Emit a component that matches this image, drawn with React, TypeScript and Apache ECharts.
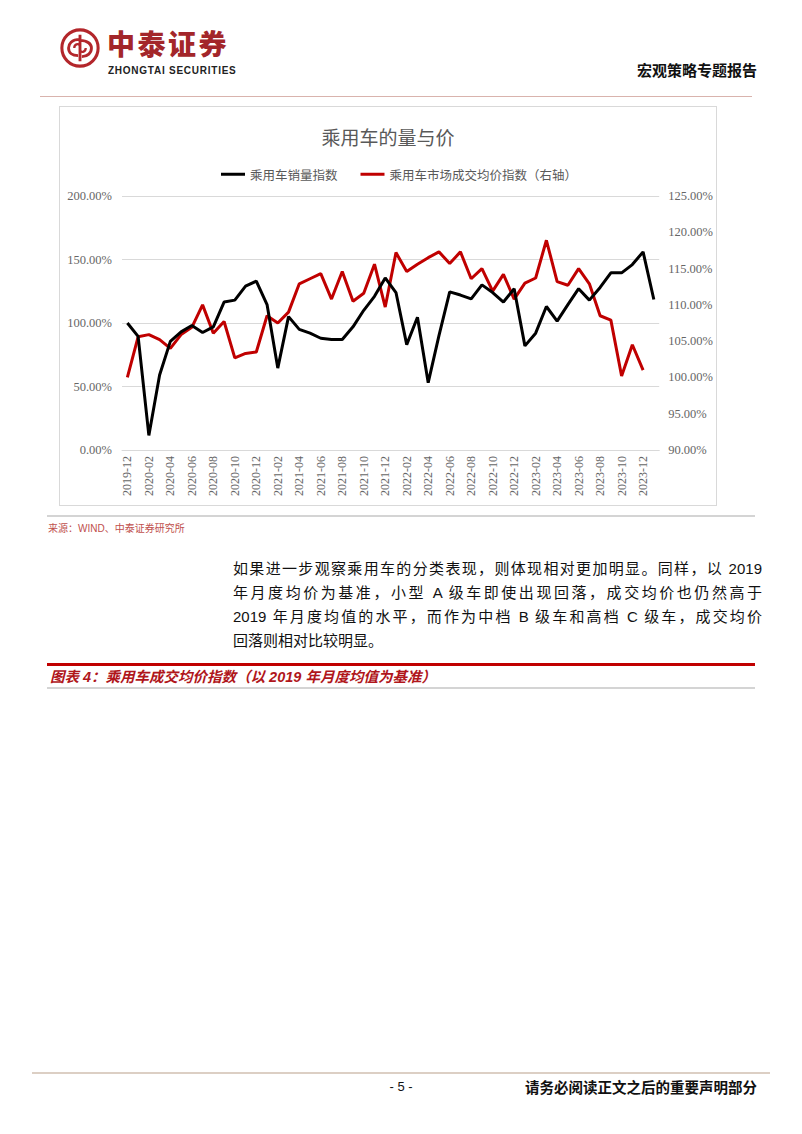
import React, { useEffect, useRef } from "react";
import * as echarts from "echarts";

const months = [
  "2019-12", "2020-01", "2020-02", "2020-03", "2020-04", "2020-05", "2020-06", "2020-07", "2020-08", "2020-09",
  "2020-10", "2020-11", "2020-12", "2021-01", "2021-02", "2021-03", "2021-04", "2021-05", "2021-06", "2021-07",
  "2021-08", "2021-09", "2021-10", "2021-11", "2021-12", "2022-01", "2022-02", "2022-03", "2022-04", "2022-05",
  "2022-06", "2022-07", "2022-08", "2022-09", "2022-10", "2022-11", "2022-12", "2023-01", "2023-02", "2023-03",
  "2023-04", "2023-05", "2023-06", "2023-07", "2023-08", "2023-09", "2023-10", "2023-11", "2023-12", "2024-01",
];

// 乘用车销量指数 (left axis, %)
const salesIndex = [
  100, 89.5, 11.5, 59, 85.5, 93, 98, 92.5, 97, 116.5,
  118, 129, 133, 114.5, 64.5, 105, 95, 92, 88, 87,
  87, 97, 110, 121, 135.5, 124, 83, 104.5, 53, 90,
  124.5, 122, 119, 130, 124, 116.5, 127, 82, 92, 113,
  101.5, 114.5, 127, 118, 128, 139.5, 139.5, 146, 156, 118.5,
];

// 乘用车市场成交均价指数 (right axis, %)
const priceIndex = [
  100, 105.6, 105.9, 105.2, 104, 105.9, 106.9, 110, 106.1, 107.7,
  102.7, 103.3, 103.5, 108.5, 107.5, 109, 112.9, 113.6, 114.3, 110.8,
  114.6, 110.5, 111.6, 115.6, 109.7, 117.2, 114.6, 115.6, 116.5, 117.3,
  115.7, 117.3, 113.6, 115, 111.9, 114.2, 110.8, 113, 113.7, 118.9,
  113.2, 112.7, 115, 112.9, 108.5, 107.9, 100.2, 104.5, 101,
];

const seriesNames = ["乘用车销量指数", "乘用车市场成交均价指数（右轴）"];
const chartTitle = "乘用车的量与价";

const CJK = '"Noto Sans CJK SC", "Noto Sans", sans-serif';
const MIX = '"Liberation Sans", "Noto Sans CJK SC", sans-serif';
const SERIF = '"Liberation Serif", "DejaVu Serif", serif';

function Chart() {
  const ref = useRef<HTMLDivElement>(null);
  useEffect(() => {
    if (!ref.current) return;
    const chart = echarts.init(ref.current, undefined, { renderer: "svg" });
    chart.setOption({
      animation: false,
      backgroundColor: "#ffffff",
      title: {
        text: chartTitle,
        left: "center",
        top: 15,
        textStyle: { fontFamily: CJK, fontSize: 19, fontWeight: "normal", color: "#595959" },
      },
      legend: {
        left: 156,
        top: 56,
        icon: "rect",
        itemWidth: 24,
        itemHeight: 3,
        itemGap: 23,
        textStyle: { fontFamily: CJK, fontSize: 12.5, color: "#595959" },
        data: seriesNames,
      },
      grid: { left: 62, right: 54, top: 89, bottom: 55, containLabel: false },
      xAxis: {
        type: "category",
        data: months,
        boundaryGap: true,
        axisLine: { show: true, lineStyle: { color: "#d9d9d9", width: 1 } },
        axisTick: { show: false },
        axisLabel: {
          rotate: 90,
          interval: 1,
          margin: 6,
          fontFamily: SERIF,
          fontSize: 12,
          color: "#666666",
        },
      },
      yAxis: [
        {
          type: "value",
          min: 0,
          max: 200,
          interval: 50,
          axisLine: { show: false },
          axisTick: { show: false },
          splitLine: { lineStyle: { color: "#d9d9d9", width: 1 } },
          axisLabel: {
            margin: 10,
            fontFamily: SERIF,
            fontSize: 12.5,
            color: "#666666",
            formatter: (v: number) => v.toFixed(2) + "%",
          },
        },
        {
          type: "value",
          min: 90,
          max: 125,
          interval: 5,
          axisLine: { show: false },
          axisTick: { show: false },
          splitLine: { show: false },
          axisLabel: {
            margin: 9,
            fontFamily: SERIF,
            fontSize: 12.5,
            color: "#666666",
            formatter: (v: number) => v.toFixed(2) + "%",
          },
        },
      ],
      series: [
        {
          name: seriesNames[0],
          type: "line",
          yAxisIndex: 0,
          data: salesIndex,
          symbol: "none",
          lineStyle: { color: "#000000", width: 3 },
          itemStyle: { color: "#000000" },
          z: 3,
        },
        {
          name: seriesNames[1],
          type: "line",
          yAxisIndex: 1,
          data: priceIndex,
          symbol: "none",
          lineStyle: { color: "#c00000", width: 3 },
          itemStyle: { color: "#c00000" },
          z: 2,
        },
      ],
    });
    return () => chart.dispose();
  }, []);
  return <div ref={ref} style={{ width: 656, height: 398 }} />;
}

const abs = (left: number, top: number, extra: React.CSSProperties = {}): React.CSSProperties => ({
  position: "absolute",
  left,
  top,
  ...extra,
});

const paraLines = [
  "如果进一步观察乘用车的分类表现，则体现相对更加明显。同样，以 2019",
  "年月度均价为基准，小型 A 级车即使出现回落，成交均价也仍然高于",
  "2019 年月度均值的水平，而作为中档 B 级车和高档 C 级车，成交均价",
  "回落则相对比较明显。",
];

export default function App() {
  return (
    <div
      style={{
        position: "absolute",
        left: 0,
        top: 0,
        width: 802,
        height: 1134,
        background: "#ffffff",
        overflow: "hidden",
        fontFamily: MIX,
      }}
    >
      {/* logo */}
      <svg style={abs(59, 27)} width={42} height={42} viewBox="0 0 44 44">
        <circle cx={22} cy={22} r={19} fill="none" stroke="#b3262b" strokeWidth={3.2} />
        <path
          d="M22 8 L22 36 M22 13 C13 13 10 18 10 22 C10 27 14 30 20 30 M22 14 C30 14 34 18 34 22 C34 27 30 31 24 31"
          fill="none"
          stroke="#b3262b"
          strokeWidth={3}
        />
        <path d="M16 22 C16 18 20 17 22 19 M28 22 C28 26 24 27 22 25" fill="none" stroke="#b3262b" strokeWidth={2.4} />
      </svg>
      <div
        style={abs(107, 28, {
          fontFamily: CJK,
          fontWeight: 900,
          fontSize: 28,
          lineHeight: "30px",
          height: 30,
          color: "#a3262a",
          letterSpacing: 2.5,
          whiteSpace: "nowrap",
        })}
      >
        中泰证券
      </div>
      <div
        style={abs(108, 65, {
          fontFamily: '"Liberation Sans", sans-serif',
          fontWeight: 700,
          fontSize: 10,
          lineHeight: "11px",
          color: "#222222",
          whiteSpace: "nowrap",
          letterSpacing: 0.75,
        })}
      >
        ZHONGTAI SECURITIES
      </div>
      <div
        style={abs(637, 60, {
          fontFamily: CJK,
          fontWeight: 700,
          fontSize: 15,
          lineHeight: "20px",
          color: "#111111",
          whiteSpace: "nowrap",
        })}
      >
        宏观策略专题报告
      </div>
      <div style={abs(40, 96, { width: 712, height: 1, background: "#d9b3ad" })} />

      {/* chart box */}
      <div
        style={abs(59, 106, {
          width: 658,
          height: 400,
          border: "1px solid #d9d9d9",
          boxSizing: "border-box",
        })}
      >
        <Chart />
      </div>
      <div style={abs(47, 515, { width: 708, height: 2, background: "#d4d4d4" })} />
      <div
        style={abs(48, 522, {
          fontFamily: MIX,
          fontSize: 10,
          lineHeight: "14px",
          color: "#c0504d",
          whiteSpace: "nowrap",
        })}
      >
        来源：WIND、中泰证券研究所
      </div>

      {/* paragraph */}
      {paraLines.map((t, i) => (
        <div
          key={i}
          style={abs(233, 557 + i * 24, {
            width: i < 3 ? 529 : undefined,
            fontFamily: MIX,
            fontSize: 15,
            lineHeight: "24px",
            color: "#111111",
            textAlign: "justify",
            textAlignLast: i < 3 ? "justify" : "left",
            whiteSpace: "nowrap",
          })}
        >
          {t}
        </div>
      ))}

      {/* figure caption */}
      <div style={abs(47, 663, { width: 708, height: 3, background: "#c00000" })} />
      <div
        style={abs(50, 667, {
          fontFamily: MIX,
          fontSize: 14.5,
          fontWeight: 700,
          fontStyle: "italic",
          lineHeight: "20px",
          color: "#b0161b",
          whiteSpace: "nowrap",
        })}
      >
        图表 4：乘用车成交均价指数（以 2019 年月度均值为基准）
      </div>
      <div style={abs(47, 687, { width: 708, height: 2, background: "#d4d4d4" })} />

      {/* footer */}
      <div style={abs(32, 1072, { width: 738, height: 2, background: "#dccfc4" })} />
      <div
        style={abs(380, 1078, {
          width: 42,
          textAlign: "center",
          fontFamily: '"Liberation Sans", sans-serif',
          fontSize: 13,
          lineHeight: "18px",
          color: "#111111",
          whiteSpace: "nowrap",
        })}
      >
        - 5 -
      </div>
      <div
        style={abs(457, 1078, {
          width: 300,
          textAlign: "right",
          fontFamily: CJK,
          fontWeight: 700,
          fontSize: 14.5,
          lineHeight: "18px",
          color: "#111111",
          whiteSpace: "nowrap",
        })}
      >
        请务必阅读正文之后的重要声明部分
      </div>
    </div>
  );
}
